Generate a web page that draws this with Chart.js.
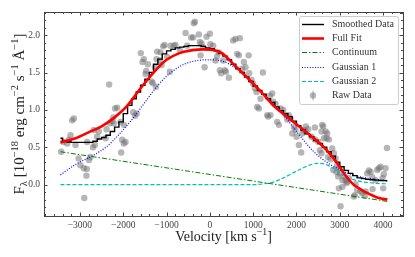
<!DOCTYPE html>
<html>
  <head>
    <meta charset="utf-8">
    <title>Line profile fit</title>
    <script src="https://cdn.jsdelivr.net/npm/chart.js"></script>
    <style>
      html, body { margin: 0; padding: 0; background: #fff; }
      .chart-container { width: 415px; height: 257px; }
    </style>
  </head>
  <body>
    <div class="chart-container">
      <canvas id="fit-chart" width="415" height="257"></canvas>
    </div>

    <script>
      const SERIF = '"Liberation Serif", "DejaVu Serif", serif';

      // raw spectrum points [velocity km/s, flux]
      const rawData = [
        [-3434,0.44],[-3380,0.57],[-3295,0.55],[-3256,0.60],[-3217,0.66],[-3180,0.86],[-3141,0.885],[-3102,0.53],
        [-3030,0.35],[-2990,0.26],[-2910,0.22],[-2840,0.21],[-2850,0.12],[-2900,-0.18],[-2790,0.33],[-2760,0.37],
        [-2700,0.50],[-2833,0.57],[-2656,0.53],[-2679,0.73],[-2603,0.64],[-2564,0.71],[-2409,0.62],[-2386,0.74],
        [-2309,0.82],[-2255,0.85],[-2217,0.82],[-2063,0.84],[-1986,0.80],[-2025,0.60],[-1986,0.55],[-1947,0.57],
        [-2048,0.43],[-2325,1.34],[-2230,0.90],[-2190,1.02],[-2140,1.03],[-1770,0.97],[-1730,0.92],[-1690,0.95],
        [-1594,1.76],[-1555,1.64],[-1524,1.68],[-1485,1.48],[-1470,1.52],[-1432,1.61],[-1346,1.38],[-1320,1.36],
        [-1247,1.31],[-1270,1.57],[-1231,1.68],[-1217,1.78],[-1139,1.77],[-1150,1.66],[-1115,1.60],[-1078,1.85],
        [-1047,1.87],[-986,1.71],[-924,1.51],[-908,1.86],[-831,1.86],[-793,1.87],[-693,1.80],[-561,2.03],
        [-524,1.86],[-432,1.97],[-386,1.97],[-370,2.16],[-346,2.18],[-254,2.01],[-231,1.91],[-215,1.73],
        [-192,1.89],[-160,1.84],[-122,1.57],[-76,1.98],[0,2.02],[10,1.88],[77,1.86],[131,1.66],[169,1.72],
        [208,1.77],[231,1.53],[261,1.49],[307,1.66],[346,1.53],[370,1.51],[439,1.43],[538,1.93],[593,1.95],
        [693,1.96],[632,1.75],[670,1.73],[747,1.55],[785,1.64],[824,1.57],[895,1.73],[908,1.49],[963,1.40],
        [1000,1.35],[1039,1.29],[1078,1.24],[1093,1.04],[1131,1.02],[1170,1.15],[1225,1.50],[1324,0.93],
        [1347,0.91],[1386,1.19],[1401,0.93],[1439,1.22],[1462,1.11],[1517,1.08],[1555,0.84],[1594,0.80],
        [1632,1.02],[1694,1.00],[1755,0.93],[1786,0.87],[1824,0.93],[1863,0.885],[1901,0.685],[1940,0.77],
        [1978,0.73],[2002,0.64],[2055,0.53],[2109,0.43],[2132,0.685],[2171,0.73],[2210,0.71],[2217,0.78],
        [2270,0.74],[2348,0.64],[2425,0.765],[2425,0.605],[2502,0.575],[2540,0.46],[2579,0.42],[2579,0.71],
        [2594,0.80],[2617,0.78],[2633,0.62],[2672,0.71],[2694,0.62],[2710,0.685],[2748,0.605],[2733,0.37],
        [2786,0.34],[2825,0.485],[2849,0.196],[2864,0.42],[2903,0.35],[2925,0.17],[2941,0.26],[2964,0.11],
        [2979,0.22],[2979,-0.05],[3002,0.15],[3018,-0.29],[3063,0.06],[3063,-0.03],[3095,0.107],[3134,0.06],
        [3156,0.02],[3172,0.04],[3210,0.085],[3326,-0.16],[3349,-0.14],[3365,0.005],[3402,-0.07],[3480,-0.09],
        [3518,-0.115],[3580,-0.15],[3596,-0.09],[3633,0.15],[3672,0.19],[3711,0.17],[3749,0.10],[3757,-0.06],
        [3826,0.06],[3864,0.196],[3903,0.22],[3941,0.24],[3988,0.085],[4003,-0.05],[4018,0.14],[4057,0.22],
        [4090,0.49]
      ];

      // smoothed data, one value per 100 km/s bin (last bin at 4100)
      const smoothV = Array.from({ length: 76 }, (_, i) => -3450 + 100 * i).concat([4100]);
      const smoothF = [
        0.62,0.58,0.57,0.565,0.565,0.565,0.565,0.565,0.58,0.61,
        0.63,0.66,0.71,0.77,0.84,0.95,1.06,1.15,1.24,1.33,
        1.41,1.50,1.61,1.68,1.75,1.79,1.81,1.83,1.84,1.85,
        1.86,1.86,1.86,1.85,1.83,1.82,1.79,1.76,1.72,1.67,
        1.61,1.55,1.50,1.44,1.38,1.32,1.26,1.21,1.15,1.10,
        1.04,0.99,0.95,0.91,0.85,0.79,0.73,0.68,0.64,0.59,
        0.55,0.50,0.44,0.38,0.30,0.24,0.19,0.15,0.12,0.09,
        0.08,0.07,0.065,0.06,0.055,0.053,0.05
      ];

      // full fit
      const fitV = [-3450,-3100,-2800,-2500,-2200,-1900,-1600,-1300,-1000,-700,-400,-150,100,300,600,900,1200,1500,1800,2100,2400,2700,2900,3100,3300,3500,3700,3900,4100];
      const fitF = [0.565,0.62,0.70,0.78,0.90,1.06,1.29,1.50,1.67,1.76,1.80,1.81,1.80,1.75,1.58,1.41,1.23,1.04,0.90,0.76,0.62,0.46,0.32,0.15,0.01,-0.07,-0.13,-0.18,-0.20];

      // continuum
      const contV = [-3450, 4100];
      const contF = [0.44, -0.225];

      // gaussian components
      const g1V = [-3450,-3100,-2700,-2400,-2100,-1800,-1500,-1200,-900,-600,-300,0,300,600,900,1200,1500,1800,2100,2400,2700,3000,3300,3700,4100];
      const g1F = [0.13,0.27,0.39,0.50,0.67,0.87,1.10,1.33,1.50,1.61,1.66,1.67,1.65,1.56,1.42,1.24,1.06,0.86,0.64,0.44,0.30,0.20,0.13,0.08,0.05];
      const g2V = [-3450,800,1000,1300,1500,1700,1900,2100,2300,2500,2700,2900,3100,3300,3500,3700,3900,4100];
      const g2F = [0,0,0,0.015,0.04,0.09,0.15,0.21,0.26,0.285,0.265,0.20,0.12,0.07,0.04,0.025,0.015,0.01];

      // axis ticks
      const xTicks = [-3000,-2000,-1000,0,1000,2000,3000,4000];
      const yTicks = [0,0.5,1,1.5,2];

      const pts = (xs, ys) => xs.map((x, i) => ({ x: x, y: ys[i] }));

      // rich text (sup/sub) for axis titles
      function richText(ctx, parts, x, y, size) {
        const small = size * 0.7;
        const widths = parts.map(p => {
          ctx.font = (p[1] === 'n' ? size : small) + 'px ' + SERIF;
          return ctx.measureText(p[0]).width;
        });
        let cx = x - widths.reduce((a, b) => a + b, 0) / 2;
        ctx.textAlign = 'left';
        ctx.textBaseline = 'alphabetic';
        parts.forEach((p, i) => {
          ctx.font = (p[1] === 'n' ? size : small) + 'px ' + SERIF;
          const dy = p[1] === 'sup' ? -size * 0.4 : (p[1] === 'sub' ? size * 0.22 : 0);
          ctx.fillText(p[0], cx, y + dy);
          cx += widths[i];
        });
      }

      const framePlugin = {
        id: 'frame',
        afterDatasetsDraw(chart) {
          const ctx = chart.ctx;
          const a = chart.chartArea;
          const xs = chart.scales.x, ys = chart.scales.y;
          ctx.save();
          ctx.strokeStyle = '#444';
          ctx.lineWidth = 1;
          ctx.beginPath();
          // inward ticks on all four sides
          for (let v = -3800; v <= 4400; v += 200) {
            const len = v % 1000 === 0 ? 3.5 : 2;
            const px = Math.round(xs.getPixelForValue(v)) + 0.5;
            ctx.moveTo(px, a.bottom); ctx.lineTo(px, a.bottom - len);
            ctx.moveTo(px, a.top); ctx.lineTo(px, a.top + len);
          }
          for (let k = -4; k <= 23; k++) {
            const len = k % 5 === 0 ? 3.5 : 2;
            const py = Math.round(ys.getPixelForValue(k / 10)) + 0.5;
            ctx.moveTo(a.left, py); ctx.lineTo(a.left + len, py);
            ctx.moveTo(a.right, py); ctx.lineTo(a.right - len, py);
          }
          ctx.stroke();
          ctx.strokeRect(Math.round(a.left) + 0.5, Math.round(a.top) + 0.5,
                         Math.round(a.right - a.left), Math.round(a.bottom - a.top));

          // axis titles
          ctx.fillStyle = '#222';
          richText(ctx, [['Velocity [km s', 'n'], ['\u22121', 'sup'], [']', 'n']],
                   (a.left + a.right) / 2, 241, 14);
          ctx.translate(24, (a.top + a.bottom) / 2);
          ctx.rotate(-Math.PI / 2);
          richText(ctx, [['F', 'n'], ['\u03bb', 'sub'], [' [10', 'n'], ['\u221218', 'sup'],
                         [' erg cm', 'n'], ['\u22122', 'sup'], [' s', 'n'], ['\u22121', 'sup'],
                         [' \u00c5', 'n'], ['\u22121', 'sup'], [']', 'n']], 0, 0, 15);
          ctx.restore();
        },
        afterDraw(chart) {
          // legend box in the upper right
          const ctx = chart.ctx;
          const bx = 299, by = 16, bw = 99, bh = 88;
          ctx.save();
          ctx.fillStyle = 'rgba(255,255,255,0.85)';
          ctx.strokeStyle = '#cccccc';
          ctx.lineWidth = 1;
          ctx.beginPath();
          ctx.roundRect(bx + 0.5, by + 0.5, bw, bh, 2);
          ctx.fill();
          ctx.stroke();
          const order = [0, 1, 2, 3, 4, 5];
          order.forEach((di, row) => {
            const ds = chart.data.datasets[di];
            const y = Math.round(by + 8 + row * 14.2) + 0.5;
            if (ds.showLine === false) {
              ctx.strokeStyle = ds.pointBackgroundColor;
              ctx.beginPath();
              ctx.moveTo(313, y - 5); ctx.lineTo(313, y + 5);
              ctx.stroke();
              ctx.fillStyle = ds.pointBackgroundColor;
              ctx.beginPath();
              ctx.arc(313, y, 3.2, 0, Math.PI * 2);
              ctx.fill();
            } else {
              ctx.strokeStyle = ds.borderColor;
              ctx.lineWidth = ds.borderWidth;
              ctx.setLineDash(ds.borderDash || []);
              ctx.beginPath();
              ctx.moveTo(302, y); ctx.lineTo(324, y);
              ctx.stroke();
              ctx.setLineDash([]);
              ctx.lineWidth = 1;
            }
            ctx.fillStyle = '#333';
            ctx.font = '10px ' + SERIF;
            ctx.textAlign = 'left';
            ctx.textBaseline = 'middle';
            ctx.fillText(ds.label, 332, y);
          });
          ctx.restore();
        }
      };

      const ctx = document.getElementById('fit-chart').getContext('2d');
      new Chart(ctx, {
        type: 'line',
        data: {
          datasets: [
            {
              label: 'Smoothed Data',
              data: pts(smoothV, smoothF),
              borderColor: '#000000',
              borderWidth: 1.4,
              stepped: 'middle',
              pointRadius: 0,
              order: 2
            },
            {
              label: 'Full Fit',
              data: pts(fitV, fitF),
              borderColor: '#ff0000',
              borderWidth: 2.6,
              cubicInterpolationMode: 'monotone',
              pointRadius: 0,
              order: 1
            },
            {
              label: 'Continuum',
              data: pts(contV, contF),
              borderColor: '#008000',
              borderWidth: 1,
              borderDash: [5, 2, 1.5, 2],
              pointRadius: 0,
              order: 3
            },
            {
              label: 'Gaussian 1',
              data: pts(g1V, g1F),
              borderColor: '#0000ff',
              borderWidth: 1.2,
              borderDash: [1, 1.6],
              cubicInterpolationMode: 'monotone',
              pointRadius: 0,
              order: 3
            },
            {
              label: 'Gaussian 2',
              data: pts(g2V, g2F),
              borderColor: '#00bfbf',
              borderWidth: 1.2,
              borderDash: [4, 2],
              cubicInterpolationMode: 'monotone',
              pointRadius: 0,
              order: 3
            },
            {
              label: 'Raw Data',
              data: rawData.map(p => ({ x: p[0], y: p[1] })),
              showLine: false,
              pointBackgroundColor: 'rgba(110,110,110,0.5)',
              pointBorderWidth: 0,
              pointBorderColor: 'rgba(0,0,0,0)',
              pointRadius: 3.2,
              order: 10
            }
          ]
        },
        options: {
          responsive: false,
          animation: false,
          devicePixelRatio: 1,
          events: [],
          layout: { padding: { top: 12, right: 12, left: 0, bottom: 0 } },
          plugins: {
            legend: { display: false },
            tooltip: { enabled: false }
          },
          scales: {
            x: {
              type: 'linear',
              min: -3830,
              max: 4460,
              grid: { display: false, drawTicks: false },
              border: { display: false },
              afterBuildTicks: s => { s.ticks = xTicks.map(v => ({ value: v })); },
              afterFit: s => { s.height = 41; },
              ticks: {
                padding: 4,
                color: '#444',
                font: { family: SERIF, size: 9.5 },
                maxRotation: 0,
                callback: v => (v < 0 ? '\u2212' + Math.abs(v) : String(v))
              }
            },
            y: {
              min: -0.42,
              max: 2.31,
              grid: { display: false, drawTicks: false },
              border: { display: false },
              afterBuildTicks: s => { s.ticks = yTicks.map(v => ({ value: v })); },
              afterFit: s => { s.width = 44; },
              ticks: {
                padding: 4,
                color: '#444',
                font: { family: SERIF, size: 9.5 },
                callback: v => v.toFixed(1)
              }
            }
          }
        },
        plugins: [framePlugin]
      });
    </script>
  </body>
</html>
